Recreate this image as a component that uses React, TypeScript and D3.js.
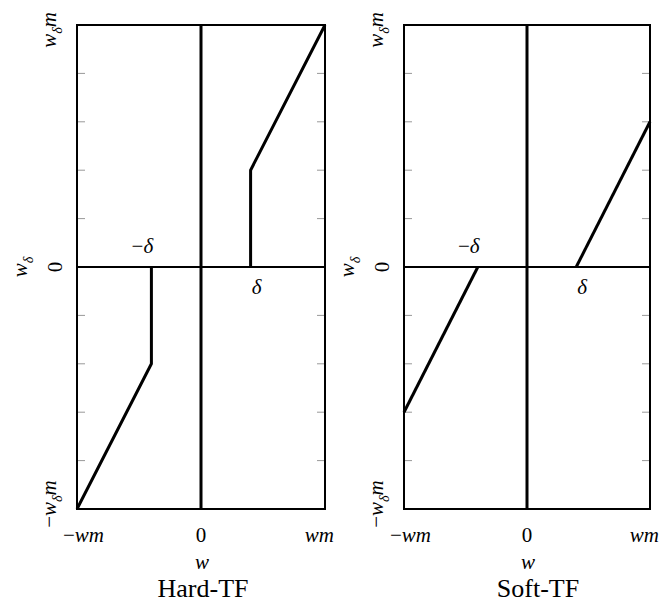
import React from "react";
import * as d3 from "d3";

// value domain on both axes (-wm..wm, -w_d m..w_d m)
const domain: [number, number] = [-1, 1];
const yTicks = [-0.8, -0.6, -0.4, -0.2, 0.2, 0.4, 0.6, 0.8];
const delta = 0.4;

// hard thresholding: w kept outside [-delta, delta], zero inside
const hardNeg: [number, number][] = [[-1, -1], [-0.4, -0.4], [-0.4, 0]];
const hardPos: [number, number][] = [[0.4, 0], [0.4, 0.4], [1, 1]];
// soft thresholding: shrink towards zero by delta
const softNeg: [number, number][] = [[-1, -0.6], [-0.4, 0]];
const softPos: [number, number][] = [[0.4, 0], [1, 0.6]];

const panels = [
  { title: "Hard-TF", left: 77, right: 325, titleDx: 2, curves: [hardNeg, hardPos] },
  { title: "Soft-TF", left: 404, right: 650, titleDx: 11, curves: [softNeg, softPos] },
];

const W = 663;
const H = 603;
const top = 25;
const bottom = 509;

function Panel({ p }: { p: typeof panels[number] }) {
  const x = d3.scaleLinear().domain(domain).range([p.left, p.right]);
  const y = d3.scaleLinear().domain(domain).range([bottom, top]);
  const line = d3.line<[number, number]>().x(d => x(d[0])).y(d => y(d[1]));
  const cx = x(0);

  const rot = (tx: number, ty: number) => `translate(${tx},${ty}) rotate(-90)`;

  return (
    <g>
      {/* y ticks on both sides */}
      {yTicks.map(t => (
        <g key={t}>
          <line x1={p.left} x2={p.left + 8} y1={y(t)} y2={y(t)} stroke="#999" strokeWidth={1} />
          <line x1={p.right - 8} x2={p.right} y1={y(t)} y2={y(t)} stroke="#999" strokeWidth={1} />
        </g>
      ))}
      {/* zero lines */}
      <line x1={p.left} x2={p.right} y1={y(0)} y2={y(0)} stroke="#000" strokeWidth={2} />
      <line x1={cx} x2={cx} y1={top} y2={bottom} stroke="#000" strokeWidth={3} />
      {/* frame */}
      <rect x={p.left} y={top} width={p.right - p.left} height={bottom - top} fill="none" stroke="#000" strokeWidth={2} />
      {/* curves */}
      {p.curves.map((c, i) => (
        <path key={i} d={line(c) || ""} fill="none" stroke="#000" strokeWidth={3} strokeLinejoin="round" />
      ))}

      {/* delta labels */}
      <text x={x(-delta) - 9} y={y(0) - 14} textAnchor="middle" fontSize={21}>
        −<tspan fontStyle="italic">δ</tspan>
      </text>
      <text x={x(delta) + 6} y={y(0) + 27} textAnchor="middle" fontSize={21} fontStyle="italic">
        δ
      </text>

      {/* y tick labels, rotated */}
      <text transform={rot(p.left - 21, y(1) + 5)} textAnchor="middle" fontSize={21} fontStyle="italic">
        w<tspan fontSize={14} dy={6}>δ</tspan><tspan dy={-6}>m</tspan>
      </text>
      <text transform={rot(p.left - 15, y(0))} textAnchor="middle" fontSize={21}>0</text>
      <text transform={rot(p.left - 21, y(-1) - 5)} textAnchor="middle" fontSize={21}>
        −<tspan fontStyle="italic">w</tspan><tspan fontSize={14} fontStyle="italic" dy={6}>δ</tspan><tspan fontStyle="italic" dy={-6}>m</tspan>
      </text>
      {/* y axis title */}
      <text transform={rot(p.left - 50, y(0))} textAnchor="middle" fontSize={21} fontStyle="italic">
        w<tspan fontSize={14} dy={6}>δ</tspan>
      </text>

      {/* x tick labels */}
      <text x={p.left - 14} y={542} textAnchor="start" fontSize={21}>
        −<tspan fontStyle="italic">wm</tspan>
      </text>
      <text x={cx} y={542} textAnchor="middle" fontSize={21}>0</text>
      <text x={p.right + 9} y={542} textAnchor="end" fontSize={21} fontStyle="italic">wm</text>
      {/* x axis title */}
      <text x={cx + 1} y={569} textAnchor="middle" fontSize={21} fontStyle="italic">w</text>
      {/* panel title */}
      <text x={cx + p.titleDx} y={597} textAnchor="middle" fontSize={26}>{p.title}</text>
    </g>
  );
}

export default function App() {
  return (
    <svg width={W} height={H}
      style={{ position: "absolute", left: 0, top: 0, background: "#fff", fontFamily: "Liberation Serif, Times New Roman, Times, serif" }}>
      {panels.map(p => <Panel key={p.title} p={p} />)}
    </svg>
  );
}
